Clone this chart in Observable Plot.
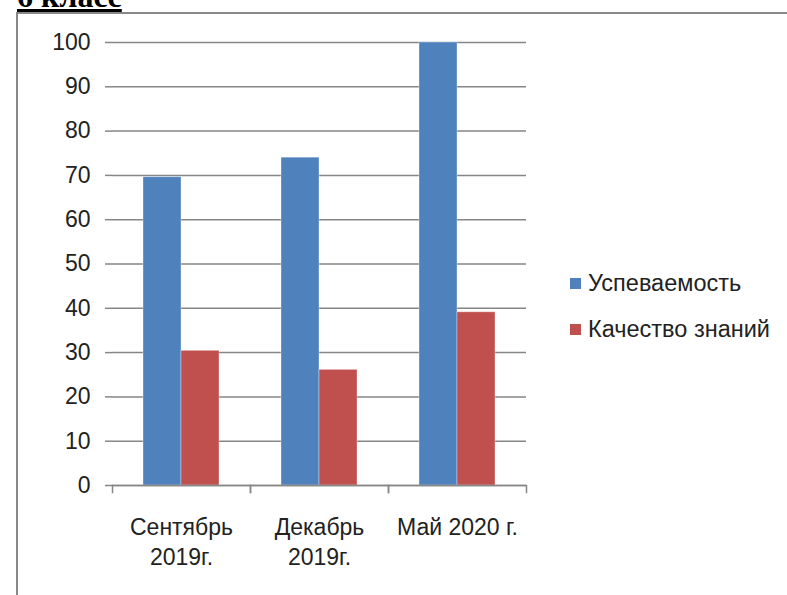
<!DOCTYPE html>
<html>
<head>
<meta charset="utf-8">
<script src="https://cdn.jsdelivr.net/npm/d3@7"></script>
<script src="https://cdn.jsdelivr.net/npm/@observablehq/plot@0.6"></script>
<style>
  html, body { margin: 0; padding: 0; background: #fff; }
  #wrap { position: relative; width: 787px; height: 595px; overflow: hidden; background: #fff; }
  #title { position: absolute; left: 17px; top: -20px; font-family: "Liberation Serif", serif; font-weight: bold; font-size: 32px; line-height: 32px; text-decoration: underline; text-decoration-thickness: 3px; color: #000; white-space: nowrap; }
  #frameTop { position: absolute; left: 17px; top: 12px; width: 770px; height: 2px; background: #888; }
  #frameLeft { position: absolute; left: 16px; top: 12px; width: 2px; height: 583px; background: #888; }
  #chart { position: absolute; left: 0; top: 0; }
  #legend { position: absolute; left: 570px; top: 260px; font-family: "Liberation Sans", sans-serif; font-size: 23.5px; color: #222; }
  .item { display: flex; align-items: center; height: 46px; }
  .sw { width: 11px; height: 11px; margin-right: 7px; }
</style>
</head>
<body>
<div id="wrap">
  <div id="title">6 класс</div>
  <div id="frameTop"></div>
  <div id="frameLeft"></div>
  <div id="chart"></div>
  <div id="legend"></div>
</div>
<script>
const categories = ["Сентябрь\n2019г.", "Декабрь\n2019г.", "Май 2020 г."];
const seriesNames = ["Успеваемость", "Качество знаний"];
const uspevaemost = [69.6, 74, 100];
const kachestvo = [30.4, 26.1, 39.1];
const colors = ["#4F81BD", "#C0504D"];
const yTicks = [0, 10, 20, 30, 40, 50, 60, 70, 80, 90, 100];

const data = [];
categories.forEach((c, i) => {
  data.push({cat: c, series: seriesNames[0], value: uspevaemost[i]});
  data.push({cat: c, series: seriesNames[1], value: kachestvo[i]});
});

const gridColor = "#868686";
const font = "Liberation Sans, sans-serif";

const chart = Plot.plot({
  width: 787,
  height: 595,
  marginLeft: 112,
  marginRight: 261,
  marginTop: 42,
  marginBottom: 110,
  style: {fontFamily: font, fontSize: "23px", color: "#222", background: "transparent"},
  fx: {domain: categories, padding: 0, label: null},
  x: {domain: seriesNames, paddingInner: 0, paddingOuter: 0.77, axis: null},
  y: {domain: [0, 100], label: null},
  color: {domain: seriesNames, range: colors},
  marks: [
    Plot.ruleY(yTicks, {stroke: gridColor, strokeWidth: 1.5, strokeOpacity: 1}),
    Plot.axisY({ticks: yTicks, tickSize: 7, tickPadding: 15, stroke: gridColor, strokeWidth: 1.5, strokeOpacity: 1, fill: "#222", fontSize: 23, label: null, anchor: "left"}),
    Plot.barY(data, {fx: "cat", x: "series", y: "value", fill: "series", inset: 0, stroke: "#ffffff", strokeOpacity: 0.35, strokeWidth: 1}),
    Plot.ruleY([0], {stroke: gridColor, strokeWidth: 1.5}),
    Plot.frame({anchor: "left", stroke: gridColor, strokeWidth: 1.5, insetTop: 443, insetBottom: -7}),
    Plot.frame({anchor: "right", stroke: gridColor, strokeWidth: 1.5, insetTop: 443, insetBottom: -7}),
    Plot.axisFx({anchor: "bottom", tickSize: 0, tickPadding: 28, lineHeight: 1.3, fill: "#222", fontSize: 23, label: null})
  ]
});
document.getElementById("chart").appendChild(chart);

const legend = document.getElementById("legend");
seriesNames.forEach((s, i) => {
  const it = document.createElement("div");
  it.className = "item";
  const sw = document.createElement("span");
  sw.className = "sw";
  sw.style.background = colors[i];
  const tx = document.createElement("span");
  tx.textContent = s;
  it.appendChild(sw);
  it.appendChild(tx);
  legend.appendChild(it);
});
</script>
</body>
</html>
